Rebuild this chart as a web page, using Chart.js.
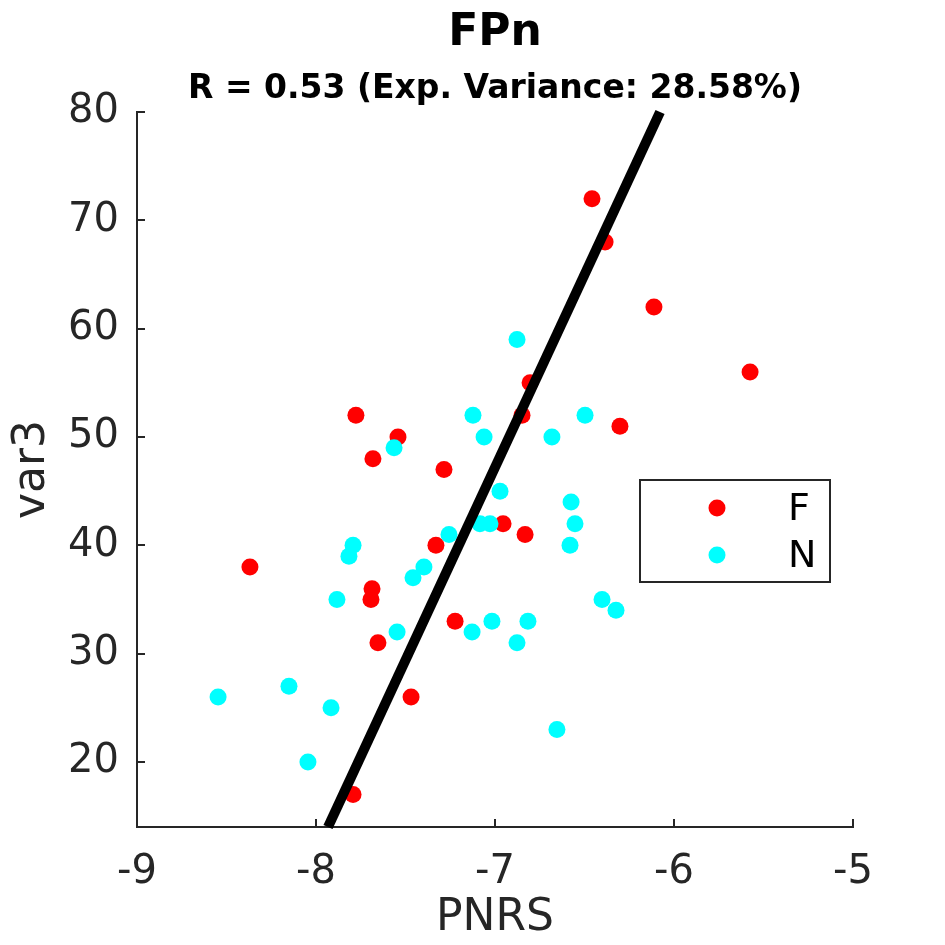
<!DOCTYPE html>
<html>
<head>
<meta charset="utf-8">
<script src="https://cdn.jsdelivr.net/npm/chart.js@4.4.1/dist/chart.umd.min.js"></script>
<style>
  html, body { margin: 0; padding: 0; background: #ffffff; }
  #wrap { width: 945px; height: 945px; position: relative; }
</style>
</head>
<body>
<div id="wrap"><canvas id="c" width="945" height="945"></canvas></div>
<script>
// ---- data ----
const titleText = "FPn";
const subtitleText = "R = 0.53 (Exp. Variance: 28.58%)";
const xLabel = "PNRS";
const yLabel = "var3";
const xTicks = [-9, -8, -7, -6, -5];
const yTicks = [20, 30, 40, 50, 60, 70, 80];
const seriesNames = ["F", "N"];

const fX = [-6.458, -6.385, -6.112, -5.575, -6.804, -6.849, -6.302, -7.777, -7.542, -7.682, -7.285,
            -6.955, -6.832, -7.330, -8.369, -7.687, -7.693, -7.223, -7.654, -7.469, -7.793];
const fY = [72, 68, 62, 56, 55, 52, 51, 52, 50, 48, 47, 42, 41, 40, 38, 36, 35, 33, 31, 26, 17];

const nX = [-6.877, -7.123, -6.497, -7.061, -6.682, -7.564, -6.972, -6.575, -7.084, -7.028, -6.553,
            -7.257, -7.793, -6.581, -7.816, -7.397, -7.458, -7.883, -6.402, -6.324, -7.017, -6.816,
            -7.547, -7.128, -6.877, -8.151, -8.547, -7.916, -8.045, -6.654];
const nY = [59, 52, 52, 50, 50, 49, 45, 44, 42, 42, 42, 41, 40, 40, 39, 38, 37, 35, 35, 34, 33, 33,
            32, 32, 31, 27, 26, 25, 20, 23];

const fitX = [-7.933, -6.078];
const fitY = [14, 80];

const toPts = (xs, ys) => xs.map((x, i) => ({ x: x, y: ys[i] }));

const AX = '#262626';

const decorPlugin = {
  id: 'decor',
  afterDraw(chart) {
    const ctx = chart.ctx;
    const xs = chart.scales.x, ys = chart.scales.y;
    const area = chart.chartArea;
    ctx.save();
    // inward tick marks
    ctx.strokeStyle = AX;
    ctx.lineWidth = 2;
    ctx.beginPath();
    xTicks.forEach(v => {
      const px = Math.round(xs.getPixelForValue(v));
      ctx.moveTo(px, area.bottom);
      ctx.lineTo(px, area.bottom - 8);
    });
    yTicks.forEach(v => {
      const py = Math.round(ys.getPixelForValue(v));
      ctx.moveTo(area.left, py);
      ctx.lineTo(area.left + 8, py);
    });
    ctx.stroke();

    // titles
    ctx.fillStyle = '#000000';
    ctx.textAlign = 'center';
    ctx.textBaseline = 'alphabetic';
    const cx = (area.left + area.right) / 2;
    ctx.font = 'bold 44px "DejaVu Sans"';
    ctx.fillText(titleText, cx, 45);
    ctx.font = 'bold 33px "DejaVu Sans"';
    ctx.fillText(subtitleText, cx, 98);

    // legend
    const bx = 640, by = 480, bw = 190, bh = 102;
    ctx.fillStyle = '#ffffff';
    ctx.fillRect(bx, by, bw, bh);
    ctx.strokeStyle = AX;
    ctx.lineWidth = 2;
    ctx.strokeRect(bx, by, bw, bh);
    ctx.font = '38px "DejaVu Sans"';
    ctx.textAlign = 'left';
    ctx.textBaseline = 'middle';
    chart.data.datasets.forEach((ds, i) => {
      if (!ds.isGroup) return;
      const yy = by + 28 + ds.legendIndex * 47;
      ctx.fillStyle = ds.backgroundColor;
      ctx.beginPath();
      ctx.arc(bx + 77, yy, 8.5, 0, Math.PI * 2);
      ctx.fill();
      ctx.fillStyle = '#000000';
      ctx.fillText(ds.label, bx + 148, yy + 2);
    });
    ctx.restore();
  }
};

new Chart(document.getElementById('c'), {
  type: 'scatter',
  data: {
    datasets: [
      {
        label: 'fit', data: toPts(fitX, fitY), showLine: true, borderColor: '#000000',
        borderWidth: 10, pointRadius: 0, order: 0, clip: false, borderCapStyle: 'butt'
      },
      {
        label: seriesNames[0], data: toPts(fX, fY), backgroundColor: '#ff0000', borderWidth: 0,
        pointRadius: 8.5, pointHoverRadius: 8.5, order: 2, isGroup: true, legendIndex: 0
      },
      {
        label: seriesNames[1], data: toPts(nX, nY), backgroundColor: '#00ffff', borderWidth: 0,
        pointRadius: 8.5, pointHoverRadius: 8.5, order: 1, isGroup: true, legendIndex: 1
      }
    ]
  },
  options: {
    responsive: false,
    animation: false,
    devicePixelRatio: 1,
    layout: { padding: { top: 112, right: 92, left: 0, bottom: 0 } },
    plugins: { legend: { display: false }, tooltip: { enabled: false }, title: { display: false } },
    scales: {
      x: {
        type: 'linear', min: -9, max: -5,
        afterBuildTicks: s => { s.ticks = xTicks.map(v => ({ value: v })); },
        afterFit: s => { s.height = 118; },
        grid: { display: false, drawTicks: false },
        border: { display: true, color: AX, width: 2 },
        ticks: { color: AX, font: { family: 'DejaVu Sans', size: 40 }, padding: 22, maxRotation: 0,
                 callback: v => String(v).replace('\u2212', '-') },
        title: { display: true, text: xLabel, color: AX, font: { family: 'DejaVu Sans', size: 44 },
                 padding: { top: 0, bottom: 0 } }
      },
      y: {
        type: 'linear', min: 14, max: 80,
        afterBuildTicks: s => { s.ticks = yTicks.map(v => ({ value: v })); },
        afterFit: s => { s.width = 137; },
        grid: { display: false, drawTicks: false },
        border: { display: true, color: AX, width: 2 },
        ticks: { color: AX, font: { family: 'DejaVu Sans', size: 40 }, padding: 18 },
        title: { display: true, text: yLabel, color: AX, font: { family: 'DejaVu Sans', size: 44 },
                 padding: { top: 6, bottom: 0 } }
      }
    }
  },
  plugins: [decorPlugin]
});
</script>
</body>
</html>
